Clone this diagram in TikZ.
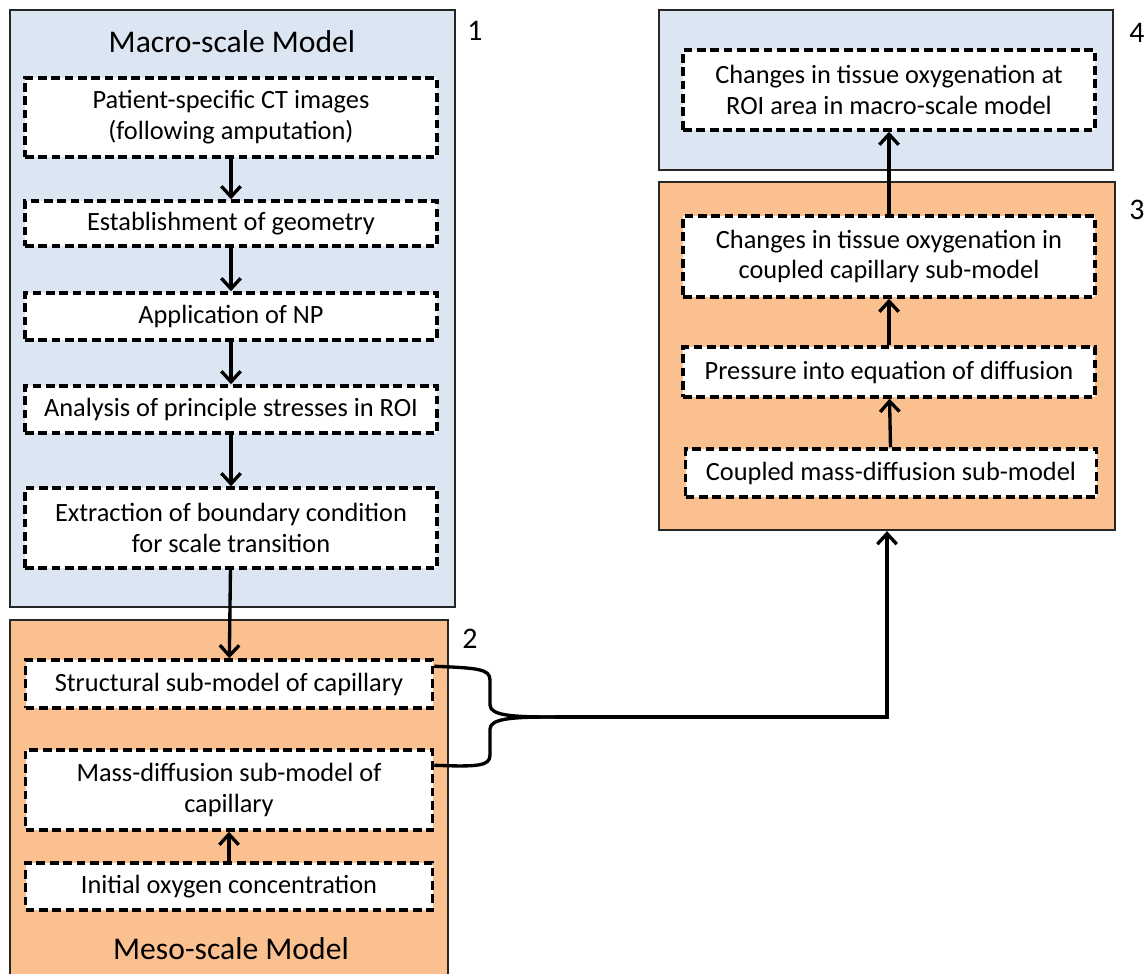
\documentclass[tikz,border=0pt]{standalone}
\usepackage{fontspec}
\setmainfont{Carlito}
\usepackage{tikz}
\usetikzlibrary{positioning}
\usetikzlibrary{arrows.meta}
\definecolor{macroblue}{RGB}{220,230,242}
\definecolor{mesoorange}{RGB}{250,192,144}
\tikzset{
  panel/.style={draw=black!85, line width=1.3pt, inner sep=0pt},
  stepbox/.style={draw, fill=white, line width=2pt, dash pattern=on 5pt off 2.6pt,
    inner sep=2pt, align=center, minimum width=412*0.02cm,
    font=\fontsize{15}{17.6}\selectfont},
  flow/.style={line width=1.9pt, -{Straight Barb[length=6pt, width=11pt, line width=1.9pt]}},
  bracket/.style={line width=1.9pt},
  title/.style={font=\fontsize{18}{20}\selectfont},
  tag/.style={font=\fontsize{17}{20}\selectfont}
}

\begin{document}
\begin{tikzpicture}[x=0.02cm, y=-0.02cm]
    \useasboundingbox (0,0) rectangle (1148,973);

    \node[panel, fill=macroblue, minimum width=445*0.02cm, minimum height=597*0.02cm] (macro) at (232.5,308.5) {};
    \node[panel, fill=mesoorange, minimum width=438*0.02cm, minimum height=355*0.02cm] (meso) at (229,797.5) {};
    \node[panel, fill=macroblue, minimum width=454*0.02cm, minimum height=160*0.02cm] (roi) at (886,90) {};
    \node[panel, fill=mesoorange, minimum width=456*0.02cm, minimum height=348*0.02cm] (coupled) at (887,356) {};

    \node[title] (macrotitle) at (232,42) {Macro-scale Model};
    \node[title] (mesotitle) at (231,949) {Meso-scale Model};
    \node[tag] (tag1) at (475,31) {1};
    \node[tag] (tag2) at (470,639) {2};
    \node[tag] (tag3) at (1137,210) {3};
    \node[tag] (tag4) at (1137,33) {4};

    \node[stepbox, minimum height=79*0.02cm] (ct) at (231,117.5) {Patient-specific CT images\\(following amputation)};
    \node[stepbox, minimum height=45*0.02cm] (geom) at (231,223.5) {Establishment of geometry};
    \node[stepbox, minimum height=47*0.02cm] (np) at (231,316.5) {Application of NP};
    \node[stepbox, minimum height=47*0.02cm] (stress) at (231,409.5) {Analysis of principle stresses in ROI};
    \node[stepbox, minimum height=80*0.02cm] (bc) at (231,528) {Extraction of boundary condition\\for scale transition};

    \node[stepbox, minimum width=407*0.02cm, minimum height=48*0.02cm] (struct) at (229,684) {Structural sub-model of capillary};
    \node[stepbox, minimum width=407*0.02cm, minimum height=80*0.02cm] (massdiff) at (229,790) {Mass-diffusion sub-model of\\capillary};
    \node[stepbox, minimum width=407*0.02cm, minimum height=47*0.02cm] (oxygen) at (229,886.5) {Initial oxygen concentration};

    \node[stepbox, minimum height=80*0.02cm] (macrochange) at (889,90) {Changes in tissue oxygenation at\\ROI area in macro-scale model};
    \node[stepbox, minimum height=81*0.02cm] (capchange) at (889,256.5) {Changes in tissue oxygenation in\\coupled capillary sub-model};
    \node[stepbox, minimum height=50*0.02cm] (pressure) at (889,372) {Pressure into equation of diffusion};
    \node[stepbox, minimum width=411*0.02cm, minimum height=48*0.02cm] (coupledmass) at (891,473) {Coupled mass-diffusion sub-model};

    \draw[flow] (ct) -- (geom);
    \draw[flow] (geom) -- (np);
    \draw[flow] (np) -- (stress);
    \draw[flow] (stress) -- (bc);
    \draw[flow] (bc) -- (struct);
    \draw[flow] (oxygen) -- (massdiff);
    \draw[flow] (coupledmass) -- (pressure);
    \draw[flow] (pressure) -- (capchange);
    \draw[flow] (capchange) -- (macrochange);

    \coordinate (tip) at (555,717);
    \coordinate (upper) at ([yshift=-8*0.02cm]struct.north east);
    \coordinate (lower) at ([yshift=-17*0.02cm]massdiff.north east);
    \draw[bracket] (upper) .. controls (478,668) and (490,669) .. (490,680) -- (490,705)
        .. controls (490,716) and (515,717) .. (tip);
    \draw[bracket] (lower) .. controls (478,767) and (490,766) .. (490,755) -- (490,729)
        .. controls (490,718) and (515,717) .. (tip);
    \draw[flow] (tip) -| (coupled.south);
\end{tikzpicture}
\end{document}
